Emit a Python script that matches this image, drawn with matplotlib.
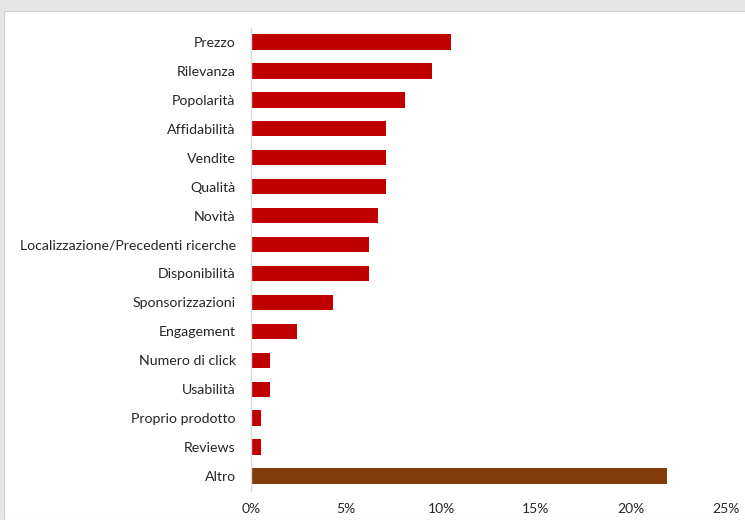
import matplotlib
matplotlib.use("Agg")
import matplotlib.pyplot as plt
from matplotlib.patches import Rectangle
from matplotlib.ticker import FuncFormatter

categories = [
    "Prezzo", "Rilevanza", "Popolarità", "Affidabilità", "Vendite", "Qualità",
    "Novità", "Localizzazione/Precedenti ricerche", "Disponibilità",
    "Sponsorizzazioni", "Engagement", "Numero di click", "Usabilità",
    "Proprio prodotto", "Reviews", "Altro",
]
shares = [10.5, 9.5, 8.1, 7.1, 7.1, 7.1, 6.7, 6.2, 6.2, 4.3, 2.4, 1.0, 1.0, 0.5, 0.5, 21.9]
x_ticks = [0, 5, 10, 15, 20, 25]

plt.rcParams["font.family"] = ["Lato", "DejaVu Sans"]

fig = plt.figure(figsize=(7.45, 5.2), dpi=100)
fig.patch.set_facecolor("#e6e6e6")
# white chart area inside the grey frame
fig.add_artist(Rectangle((4 / 745, 0), 1, 1 - 11 / 520, transform=fig.transFigure,
                         facecolor="white", edgecolor="#d0d0d0", linewidth=0.8, zorder=-5))

ax = fig.add_axes([251 / 745, 29.5 / 520, 475 / 745, 463 / 520])
ax.set_facecolor("none")

colors = ["#C00000"] * (len(categories) - 1) + ["#843C0C"]
positions = range(len(categories))
ax.barh(positions, shares, height=0.53, color=colors, zorder=2)

ax.set_ylim(len(categories) - 0.5, -0.5)
ax.set_xlim(0, 25)
ax.set_yticks(list(positions))
ax.set_yticklabels(categories, fontsize=10.2, color="#262626")
ax.set_xticks(x_ticks)
ax.xaxis.set_major_formatter(FuncFormatter(lambda v, _: f"{v:.0f}%"))
ax.tick_params(axis="x", length=0, labelsize=10, colors="#262626", pad=9)
ax.tick_params(axis="y", length=0, pad=11)

for side in ("top", "right", "bottom"):
    ax.spines[side].set_visible(False)
ax.spines["left"].set_color("#d9d9d9")
ax.spines["left"].set_linewidth(1.0)

fig.savefig("out.png", dpi=100, facecolor=fig.get_facecolor())
